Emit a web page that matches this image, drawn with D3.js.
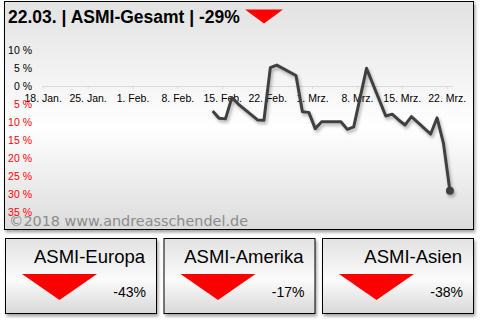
<!DOCTYPE html>
<html>
<head>
<meta charset="utf-8">
<script src="https://cdn.jsdelivr.net/npm/d3@7/dist/d3.min.js"></script>
<style>
  html, body { margin: 0; padding: 0; background: #ffffff; }
  svg { display: block; }
</style>
</head>
<body>
<script>
// ASMI-Gesamt daily performance (%) since start, plus regional summary tiles
const dates = ["2018-02-13","2018-02-14","2018-02-15","2018-02-16","2018-02-17",
  "2018-02-20","2018-02-21","2018-02-22","2018-02-23","2018-02-26","2018-02-27",
  "2018-02-28","2018-03-01","2018-03-02","2018-03-05","2018-03-06","2018-03-07",
  "2018-03-09","2018-03-12","2018-03-13","2018-03-14","2018-03-15","2018-03-16",
  "2018-03-19","2018-03-20","2018-03-21","2018-03-22"];
const values = [-6.9,-8.9,-9.1,-3.2,-5.0,-9.4,-9.5,5.1,5.8,2.9,-7.1,-7.3,-11.8,
  -9.9,-9.9,-12.0,-11.3,4.9,-8.3,-7.8,-9.4,-10.8,-8.5,-13.3,-8.8,-15.9,-29];

const xTickDates = ["2018-01-18","2018-01-25","2018-02-01","2018-02-08","2018-02-15",
  "2018-02-22","2018-03-01","2018-03-08","2018-03-15","2018-03-22"];
const xTickLabels = ["18. Jan.","25. Jan.","1. Feb.","8. Feb.","15. Feb.",
  "22. Feb.","1. Mrz.","8. Mrz.","15. Mrz.","22. Mrz."];
const yTicks = [10,5,0,-5,-10,-15,-20,-25,-30,-35];

const titleText = "22.03. | ASMI-Gesamt | -29%";
const regions = ["ASMI-Europa","ASMI-Amerika","ASMI-Asien"];
const regionValues = [-43,-17,-38];
const watermark = "\u00A92018 www.andreasschendel.de";

const W = 485, H = 322;
const parse = d3.utcParse("%Y-%m-%d");
const series = dates.map((d, i) => ({ date: parse(d), value: values[i] }));

const svg = d3.select("body").append("svg")
  .attr("width", W).attr("height", H);

const defs = svg.append("defs");
const panelGrad = defs.append("linearGradient").attr("id", "panelGrad")
  .attr("x1", 0).attr("y1", 0).attr("x2", 0).attr("y2", 1);
panelGrad.append("stop").attr("offset", "0%").attr("stop-color", "#e2e2e2");
panelGrad.append("stop").attr("offset", "55%").attr("stop-color", "#ffffff");
panelGrad.append("stop").attr("offset", "100%").attr("stop-color", "#dcdcdc");

const tileGrad = defs.append("linearGradient").attr("id", "tileGrad")
  .attr("x1", 0).attr("y1", 0).attr("x2", 0).attr("y2", 1);
tileGrad.append("stop").attr("offset", "0%").attr("stop-color", "#e2e2e2");
tileGrad.append("stop").attr("offset", "55%").attr("stop-color", "#fbfbfb");
tileGrad.append("stop").attr("offset", "100%").attr("stop-color", "#d8d8d8");

const boxShadow = defs.append("filter").attr("id", "boxShadow")
  .attr("x", "-10%").attr("y", "-10%").attr("width", "120%").attr("height", "130%");
boxShadow.append("feDropShadow").attr("dx", 1.5).attr("dy", 2.5)
  .attr("stdDeviation", 1.5).attr("flood-color", "#000").attr("flood-opacity", 0.35);

const lineShadow = defs.append("filter").attr("id", "lineShadow")
  .attr("x", "-10%").attr("y", "-10%").attr("width", "130%").attr("height", "130%");
lineShadow.append("feDropShadow").attr("dx", 1.5).attr("dy", 2.5)
  .attr("stdDeviation", 1.4).attr("flood-color", "#000").attr("flood-opacity", 0.3);

// Main panel
svg.append("rect")
  .attr("x", 4.5).attr("y", 1.5).attr("width", 469).attr("height", 228)
  .attr("fill", "url(#panelGrad)").attr("stroke", "#000").attr("stroke-width", 1)
  .attr("filter", "url(#boxShadow)");

// Scales
const x = d3.scaleUtc()
  .domain([parse("2018-01-18"), parse("2018-03-22")])
  .range([42.7, 446.7]);
const y = d3.scaleLinear().domain([-35, 10]).range([212.4, 49.9]);
const dayMid = d => d3.utcHour.offset(d, 12);

// Watermark (drawn under the axis labels)
svg.append("text")
  .attr("x", 9).attr("y", 226)
  .attr("font-family", "'DejaVu Sans', sans-serif")
  .attr("font-size", 14).attr("fill", "#8c8c8c")
  .attr("textLength", 239).attr("lengthAdjust", "spacingAndGlyphs")
  .text(watermark);

// X axis (date axis, points centred between tick marks)
const xAxis = d3.axisBottom(x)
  .tickValues(xTickDates.map(parse))
  .tickFormat((d, i) => xTickLabels[i])
  .tickSize(3).tickSizeOuter(0).tickPadding(6);
const gx = svg.append("g").attr("transform", `translate(0,${y(0)})`).call(xAxis);
gx.select(".domain")
  .attr("d", `M${x(parse("2018-01-18"))},0.5H${x(parse("2018-03-23"))}`)
  .attr("stroke", "#d9d9d9");
gx.selectAll(".tick line").attr("stroke", "#d9d9d9");
gx.selectAll(".tick text")
  .attr("font-family", "'Liberation Sans', Arial, sans-serif")
  .attr("font-size", 10.5).attr("fill", "#000");

// Y axis labels (negative values in red, without sign)
const yAxis = d3.axisLeft(y).tickValues(yTicks)
  .tickFormat(d => Math.abs(d) + " %").tickSize(0).tickPadding(0);
const gy = svg.append("g").attr("transform", "translate(32,0)").call(yAxis);
gy.select(".domain").remove();
gy.selectAll(".tick text")
  .attr("font-family", "'Liberation Sans', Arial, sans-serif")
  .attr("font-size", 10.5)
  .attr("fill", d => d < 0 ? "#ff0000" : "#000");

// Line
const line = d3.line()
  .x(d => x(dayMid(d.date)))
  .y(d => y(d.value));
const gl = svg.append("g").attr("filter", "url(#lineShadow)");
gl.append("path").datum(series)
  .attr("d", line).attr("fill", "none")
  .attr("stroke", "#404040").attr("stroke-width", 3)
  .attr("stroke-linejoin", "round");
const last = series[series.length - 1];
gl.append("circle")
  .attr("cx", x(dayMid(last.date))).attr("cy", y(last.value)).attr("r", 4)
  .attr("fill", "#404040");

// Title
svg.append("text")
  .attr("x", 8).attr("y", 23)
  .attr("font-family", "'Liberation Sans', Arial, sans-serif")
  .attr("font-weight", "bold").attr("font-size", 17.5).attr("fill", "#000")
  .text(titleText);
svg.append("path")
  .attr("d", "M245,9.5L283,9.5L264,23.5Z").attr("fill", "#ff0000");

// Region tiles
const tileX = [5, 163.5, 322];
const tileW = 151, tileY = 238, tileH = 75;
regions.forEach((name, i) => {
  const g = svg.append("g").attr("transform", `translate(${tileX[i]},${tileY})`);
  g.append("rect").attr("x", 0.5).attr("y", 0.5).attr("width", tileW).attr("height", tileH)
    .attr("fill", "url(#tileGrad)").attr("stroke", "#000").attr("stroke-width", 1)
    .attr("filter", "url(#boxShadow)");
  g.append("text").attr("x", 140).attr("y", 25).attr("text-anchor", "end")
    .attr("font-family", "'Liberation Sans', Arial, sans-serif")
    .attr("font-size", 18.5).attr("fill", "#000").text(name);
  g.append("path").attr("d", "M17,36L92,36L54.5,62Z").attr("fill", "#ff0000");
  g.append("text").attr("x", 141).attr("y", 59).attr("text-anchor", "end")
    .attr("font-family", "'Liberation Sans', Arial, sans-serif")
    .attr("font-size", 14).attr("fill", "#000").text(regionValues[i] + "%");
});
</script>
</body>
</html>
